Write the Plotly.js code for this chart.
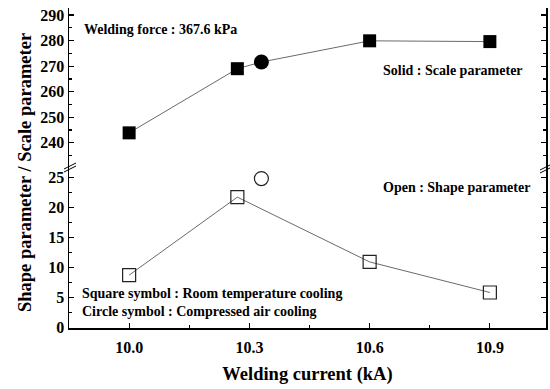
<!DOCTYPE html>
<html>
<head>
<meta charset="utf-8">
<script src="https://cdn.plot.ly/plotly-3.0.1.min.js"></script>
<style>
  html, body { margin: 0; padding: 0; background: #fff; font-family: 'Liberation Serif'; }
  #chart { width: 550px; height: 389px; }
</style>
</head>
<body>
<div id="chart"></div>
<script>
// Welding current (kA) for the room-temperature-cooling runs
const current = [10.0, 10.27, 10.6, 10.9];
// Scale parameter (solid squares) and shape parameter (open squares)
const scaleRoom = [243.9, 269.0, 279.9, 279.6];
const shapeRoom = [8.7, 21.7, 10.9, 5.8];
// Compressed-air-cooling run (circles)
const airCurrent = [10.33];
const scaleAir = [271.6];
const shapeAir = [24.8];

const xTicks = [10.0, 10.3, 10.6, 10.9];
const xTickText = ['10.0', '10.3', '10.6', '10.9'];

const LINE = '#6a6a6a';

function serif(size) {
  return {family: 'Liberation Serif', size: size, color: 'black', weight: 'bold'};
}

// the scale-parameter line runs through the air-cooled point as well
const scaleLine = current.map((x, i) => ({x, y: scaleRoom[i]}))
  .concat(airCurrent.map((x, i) => ({x, y: scaleAir[i]})))
  .sort((a, b) => a.x - b.x);

const traces = [
  { x: scaleLine.map(p => p.x), y: scaleLine.map(p => p.y), xaxis: 'x', yaxis: 'y2',
    mode: 'lines', line: {color: LINE, width: 1}, hoverinfo: 'skip' },
  { x: current, y: scaleRoom, xaxis: 'x', yaxis: 'y2', mode: 'markers',
    marker: {symbol: 'square', size: 13, color: '#000'} },
  { x: airCurrent, y: scaleAir, xaxis: 'x', yaxis: 'y2', mode: 'markers',
    marker: {symbol: 'circle', size: 15, color: '#000'} },
  { x: current, y: shapeRoom, xaxis: 'x', yaxis: 'y', mode: 'lines+markers',
    line: {color: LINE, width: 1},
    marker: {symbol: 'square-open', size: 13, color: '#222', line: {width: 1.2}} },
  { x: airCurrent, y: shapeAir, xaxis: 'x', yaxis: 'y', mode: 'markers',
    marker: {symbol: 'circle-open', size: 14, color: '#222', line: {width: 1.2}} }
];

const split = 0.506;

function yAxis(extra) {
  return Object.assign({
    showline: true, linecolor: '#000', linewidth: 1.5, mirror: 'ticks',
    ticks: 'inside', ticklen: 5, tickwidth: 1.2, tickcolor: '#000',
    showgrid: false, zeroline: false, tickfont: serif(16)
  }, extra);
}

function note(text, x, y) {
  return { text, x, y, xref: 'paper', yref: 'paper', xanchor: 'left', yanchor: 'middle',
           showarrow: false, font: serif(14) };
}
function px(xPix) { return (xPix - 69) / 477; }
function py(yPix) { return (328 - yPix) / 320; }

const layout = {
  width: 550, height: 389,
  margin: {l: 69, r: 4, t: 8, b: 61},
  paper_bgcolor: '#fff', plot_bgcolor: '#fff',
  showlegend: false,
  xaxis: {
    range: [9.85, 11.04], anchor: 'y',
    tickvals: xTicks, ticktext: xTickText,
    showline: true, linecolor: '#000', linewidth: 1.5,
    ticks: 'inside', ticklen: 5, tickwidth: 1.2, tickcolor: '#000',
    ticklabelstandoff: 4,
    minor: {dtick: 0.15, tick0: 10.0, ticks: 'inside', ticklen: 3, tickcolor: '#000'},
    showgrid: false, zeroline: false, tickfont: serif(16),
    title: {text: 'Welding current (kA)', font: serif(18.5), standoff: 12}
  },
  xaxis2: {
    matches: 'x', anchor: 'y2', side: 'top', overlaying: 'x',
    tickvals: xTicks, showticklabels: false,
    showline: true, linecolor: '#000', linewidth: 1.5,
    ticks: 'inside', ticklen: 5, tickwidth: 1.2, tickcolor: '#000',
    minor: {dtick: 0.15, tick0: 10.0, ticks: 'inside', ticklen: 3, tickcolor: '#000'},
    showgrid: false, zeroline: false
  },
  yaxis: yAxis({
    domain: [0, split], range: [-0.12, 26.88], anchor: 'x',
    tickvals: [0, 5, 10, 15, 20, 25],
    minor: {dtick: 2.5, ticks: 'inside', ticklen: 3, tickcolor: '#000'}
  }),
  yaxis2: yAxis({
    domain: [split, 1], range: [230.9, 292.74], anchor: 'x',
    tickvals: [240, 250, 260, 270, 280, 290],
    minor: {dtick: 5, ticks: 'inside', ticklen: 3, tickcolor: '#000'}
  }),
  annotations: [
    note('Welding force : 367.6 kPa', px(82), py(30)),
    note('Solid : Scale parameter', px(381), py(70)),
    note('Open : Shape parameter', px(381), py(187)),
    note('Square symbol : Room temperature cooling', px(80), py(293)),
    note('Circle symbol : Compressed air cooling', px(80), py(311)),
    { text: 'Shape parameter / Scale parameter', textangle: -90,
      x: px(25), y: py(173), xref: 'paper', yref: 'paper',
      xanchor: 'center', yanchor: 'middle', showarrow: false,
      font: serif(18.5) }
  ],
  shapes: [
    // axis-break marks on both vertical axes
    {type: 'line', xref: 'paper', yref: 'paper', x0: px(64), x1: px(76), y0: py(169), y1: py(163), line: {color: '#000', width: 1}},
    {type: 'line', xref: 'paper', yref: 'paper', x0: px(64), x1: px(76), y0: py(172), y1: py(166), line: {color: '#000', width: 1}},
    {type: 'line', xref: 'paper', yref: 'paper', x0: px(540), x1: px(550), y0: py(170), y1: py(165), line: {color: '#000', width: 1}},
    {type: 'line', xref: 'paper', yref: 'paper', x0: px(540), x1: px(550), y0: py(173), y1: py(168), line: {color: '#000', width: 1}}
  ]
};

function draw() {
  Plotly.newPlot('chart', traces, layout, {staticPlot: true, displayModeBar: false});
}
// make sure the serif face is ready before the text is measured
if (document.fonts && document.fonts.load) {
  document.fonts.load('bold 16px "Liberation Serif"').then(draw, draw);
} else {
  draw();
}
</script>
</body>
</html>
